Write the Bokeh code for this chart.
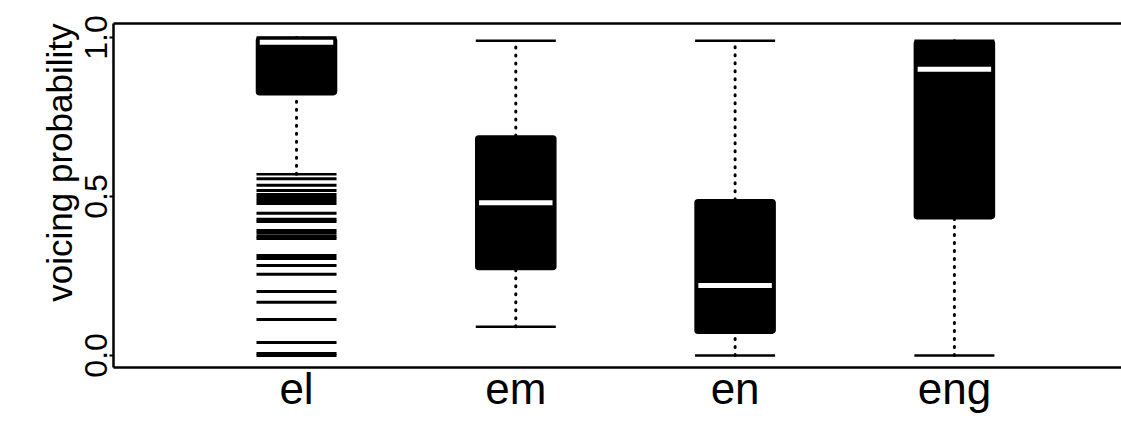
from bokeh.plotting import figure
from bokeh.models import (Range1d, FixedTicker, LinearAxis, ColumnDataSource,
                          NumeralTickFormatter, Title)
from bokeh.embed import file_html
from bokeh.resources import INLINE

# Box-plot summaries of voicing probability per syllabic consonant
categories = ["el", "em", "en", "eng"]
positions = [1, 2, 3, 4]
q1 = [0.82, 0.27, 0.07, 0.43]
median = [0.985, 0.48, 0.22, 0.90]
q3 = [1.0, 0.69, 0.49, 0.99]
whisker_low = [0.57, 0.09, 0.0, 0.0]
whisker_high = [1.0, 0.99, 0.99, 0.99]

# Outlying observations for "el" (below the lower fence)
el_outliers = [0.556, 0.535, 0.519, 0.506, 0.497, 0.487, 0.478, 0.447, 0.428,
               0.421, 0.393, 0.384, 0.374, 0.368, 0.314, 0.305, 0.283, 0.255,
               0.201, 0.167, 0.113, 0.041, 0.006, 0.0]

BOX_W = 0.365
MED_W = 0.335
FONT = "Liberation Sans"

p = figure(width=1121, height=423, output_backend="svg", toolbar_location=None,
           x_range=Range1d(0.1655, 4.762), y_range=Range1d(-0.038, 1.044),
           min_border_left=113, min_border_right=0, min_border_top=23,
           min_border_bottom=56, x_axis_location=None, y_axis_location=None)
p.outline_line_color = None
p.outline_line_alpha = 0
p.grid.visible = False
p.background_fill_color = "white"
p.border_fill_color = "white"

left = [x - BOX_W / 2 for x in positions]
right = [x + BOX_W / 2 for x in positions]
src = ColumnDataSource(dict(x=positions, left=left, right=right, q1=q1, q3=q3,
                            med=median, lo=whisker_low, hi=whisker_high,
                            ml=[x - MED_W / 2 for x in positions],
                            mr=[x + MED_W / 2 for x in positions]))

# dotted whiskers
p.segment(x0="x", y0="q3", x1="x", y1="hi", source=src, line_color="black",
          line_width=3, line_dash="1 7", line_cap="round")
p.segment(x0="x", y0="lo", x1="x", y1="q1", source=src, line_color="black",
          line_width=3, line_dash="1 7", line_cap="round")
# staples
p.segment(x0="left", y0="hi", x1="right", y1="hi", source=src, line_color="black", line_width=2.5)
p.segment(x0="left", y0="lo", x1="right", y1="lo", source=src, line_color="black", line_width=2.5)

# outliers of el drawn as horizontal bars
out_src = ColumnDataSource(dict(y=el_outliers,
                                x0=[left[0]] * len(el_outliers),
                                x1=[right[0]] * len(el_outliers)))
p.segment(x0="x0", y0="y", x1="x1", y1="y", source=out_src, line_color="black", line_width=3)

# boxes
p.quad(left="left", right="right", bottom="q1", top="q3", source=src,
       fill_color="black", line_color="black", line_width=1.5, border_radius=3)
# medians
p.segment(x0="ml", y0="med", x1="mr", y1="med", source=src, line_color="white", line_width=5)

# y axis (next to the frame)
yax = LinearAxis(ticker=FixedTicker(ticks=[0.0, 0.5, 1.0]),
                 formatter=NumeralTickFormatter(format="0.0"))
yax.axis_line_width = 2.5
yax.axis_line_color = "black"
yax.major_tick_line_width = 2
yax.major_tick_out = 4
yax.major_tick_in = 0
yax.minor_tick_line_color = None
yax.major_label_orientation = "vertical"
yax.major_label_text_font = FONT
yax.major_label_text_font_size = "32px"
yax.major_label_text_color = "black"
yax.major_label_standoff = 2
p.add_layout(yax, "left")

# y title, reading upwards and ending at the top of the frame
ytitle = Title(text="voicing probability", align="right", offset=0, standoff=8,
               text_font=FONT, text_font_size="35px", text_font_style="normal",
               text_color="black")
p.add_layout(ytitle, "left")

# category axis along the bottom
xax = LinearAxis(ticker=FixedTicker(ticks=positions),
                 major_label_overrides={pos: cat for pos, cat in zip(positions, categories)})
xax.axis_line_width = 2.5
xax.axis_line_color = "black"
xax.major_tick_line_color = None
xax.minor_tick_line_color = None
xax.major_tick_out = 0
xax.major_tick_in = 0
xax.major_label_standoff = -4
xax.major_label_text_font = FONT
xax.major_label_text_font_size = "44px"
xax.major_label_text_color = "black"
p.add_layout(xax, "below")

# plain frame line along the top
top = LinearAxis(ticker=FixedTicker(ticks=[]))
top.axis_line_width = 2.5
top.axis_line_color = "black"
top.major_tick_line_color = None
top.minor_tick_line_color = None
top.major_label_text_font_size = "0px"
p.add_layout(top, "above")

open("out.html", "w").write(file_html(p, INLINE))
